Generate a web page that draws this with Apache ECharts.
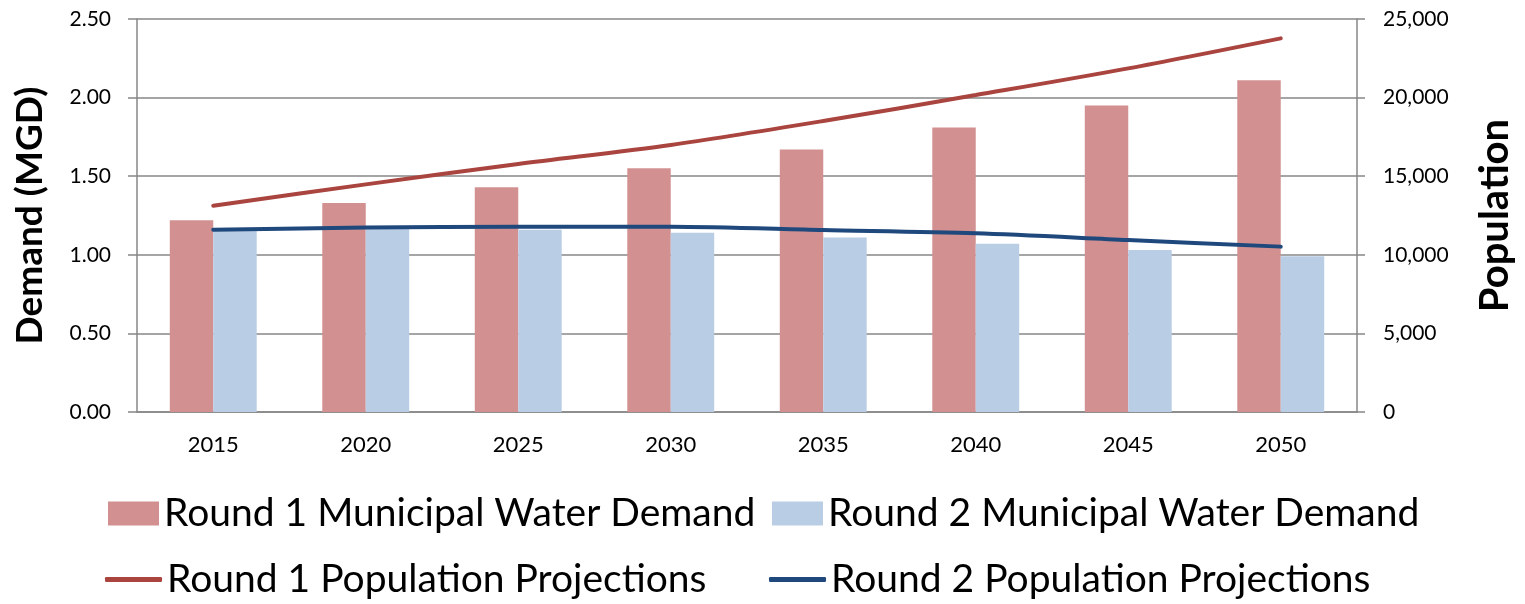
<!DOCTYPE html>
<html>
<head>
<meta charset="utf-8">
<script src="https://cdn.jsdelivr.net/npm/echarts@6/dist/echarts.min.js"></script>
<style>
    html, body { margin: 0; padding: 0; background: #fff; }
    #chart { width: 1525px; height: 604px; }
</style>
</head>
<body>
<div id="chart"></div>
<script>
// data
var years = ['2015', '2020', '2025', '2030', '2035', '2040', '2045', '2050'];
var round1Demand = [1.22, 1.33, 1.43, 1.55, 1.67, 1.81, 1.95, 2.11];
var round2Demand = [1.16, 1.18, 1.16, 1.14, 1.11, 1.07, 1.03, 0.99];
var round1Pop = [13120, 14480, 15780, 16990, 18510, 20160, 21860, 23770];
var round2Pop = [11600, 11730, 11790, 11790, 11580, 11370, 10940, 10520];

var names = ['Round 1 Municipal Water Demand', 'Round 2 Municipal Water Demand',
    'Round 1 Population Projections', 'Round 2 Population Projections'];

var font = 'Lato';
var gray = '#878787';

// one legend per item so each sits where it does in the picture
function legendAt(name, left, top, w, h, icon) {
    return {
        data: [name],
        left: left,
        top: top,
        itemWidth: w,
        itemHeight: h,
        icon: icon,
        padding: 0,
        textStyle: {fontFamily: font, fontSize: 39, color: '#000'}
    };
}

var chart = echarts.init(document.getElementById('chart'));
chart.setOption({
    animation: false,
    backgroundColor: '#fff',
    grid: {left: 137, right: 168, top: 19, bottom: 192},
    legend: [
        legendAt(names[0], 108, 494, 51, 24, 'rect'),
        legendAt(names[1], 772, 494, 51, 24, 'rect'),
        legendAt(names[2], 105, 560, 57, 5, 'roundRect'),
        legendAt(names[3], 769, 560, 57, 5, 'roundRect')
    ],
    xAxis: {
        type: 'category',
        data: years,
        axisLine: {lineStyle: {color: gray, width: 1.5}},
        axisTick: {length: 8, lineStyle: {color: gray, width: 1.5}},
        axisLabel: {fontFamily: font, fontSize: 22, color: '#000', margin: 22}
    },
    yAxis: [
        {
            type: 'value',
            min: 0, max: 2.5, interval: 0.5,
            name: 'Demand (MGD)',
            nameLocation: 'middle',
            nameRotate: 90,
            nameGap: 88,
            nameTextStyle: {fontFamily: font, fontSize: 37, fontWeight: 'bold', color: '#000'},
            axisLine: {show: true, lineStyle: {color: gray, width: 1.5}},
            axisTick: {show: true, length: 9, lineStyle: {color: gray, width: 1.5}},
            axisLabel: {
                fontFamily: font, fontSize: 21, color: '#000', margin: 26,
                formatter: function (v) { return v.toFixed(2); }
            },
            splitLine: {lineStyle: {color: gray, width: 1.5}}
        },
        {
            type: 'value',
            min: 0, max: 25000, interval: 5000,
            name: 'Population',
            nameLocation: 'middle',
            nameRotate: 90,
            nameGap: 118,
            nameTextStyle: {fontFamily: font, fontSize: 40, fontWeight: 'bold', color: '#000'},
            axisLine: {show: true, lineStyle: {color: gray, width: 1.5}},
            axisTick: {show: true, length: 8, lineStyle: {color: gray, width: 1.5}},
            axisLabel: {
                fontFamily: font, fontSize: 21, color: '#000', margin: 26,
                formatter: function (v) { return v.toLocaleString('en-US'); }
            },
            splitLine: {show: false}
        }
    ],
    series: [
        {
            name: names[0], type: 'bar', data: round1Demand,
            barGap: 0, barCategoryGap: '43%',
            itemStyle: {color: '#D29190'}
        },
        {
            name: names[1], type: 'bar', data: round2Demand,
            barGap: 0, barCategoryGap: '43%',
            itemStyle: {color: '#B9CDE5'}
        },
        {
            name: names[2], type: 'line', yAxisIndex: 1, data: round1Pop,
            smooth: 0.3, showSymbol: false, symbol: 'none',
            itemStyle: {color: '#A9443F'},
            lineStyle: {color: '#A9443F', width: 4, cap: 'round'}
        },
        {
            name: names[3], type: 'line', yAxisIndex: 1, data: round2Pop,
            smooth: 0.3, showSymbol: false, symbol: 'none',
            itemStyle: {color: '#1F497D'},
            lineStyle: {color: '#1F497D', width: 4, cap: 'round'}
        }
    ]
});
</script>
</body>
</html>
